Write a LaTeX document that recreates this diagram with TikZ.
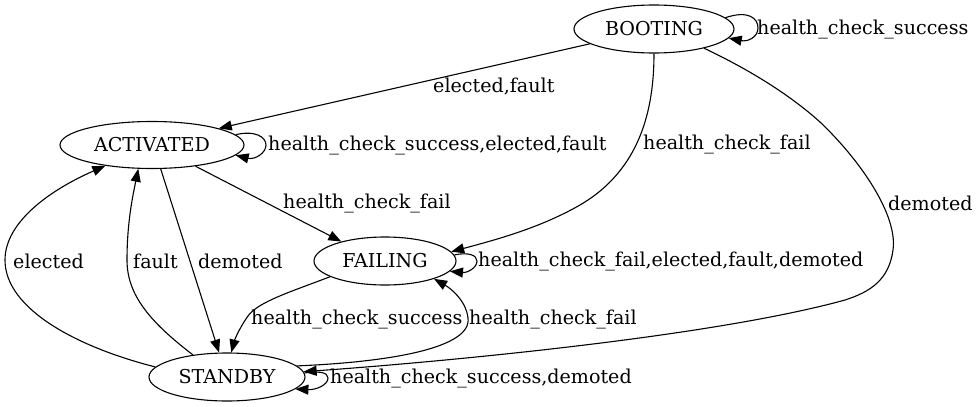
\documentclass[tikz,border=0pt]{standalone}
\usepackage{fontspec}
\setmainfont{DejaVu Serif}
\usetikzlibrary{shapes.geometric,arrows.meta}
\begin{document}
\begin{tikzpicture}[x=1pt,y=-1pt,
  st/.style={ellipse, draw, line width=1.1pt, inner sep=0pt},
  tr/.style={-{Triangle[length=13pt,width=10pt]}, line width=1.1pt},
  lbl/.style={anchor=west, inner sep=0pt},
  every node/.style={font=\fontsize{19.1}{22}\selectfont}]
\useasboundingbox (0,0) rectangle (978,407);
\node[st, minimum width=160pt, minimum height=48pt] (boot) at (654,29) {BOOTING};
\node[st, minimum width=184pt, minimum height=47pt] (act) at (152,145) {ACTIVATED};
\node[st, minimum width=142pt, minimum height=48pt] (fail) at (385,261) {FAILING};
\node[st, minimum width=156pt, minimum height=48pt] (stby) at (227,377) {STANDBY};

% BOOTING edges
\draw[tr] (boot.193) -- (act.14);
\node[lbl] (l1) at (433,87) {elected,fault};
\draw[tr] (boot.9) .. controls (748,10) and (758,18) .. (758,28) .. controls (758,37) and (748,42) .. (boot.-7);
\node[lbl] (l2) at (757,29) {health\_check\_success};
\draw[tr] (boot.270) .. controls (654,110) and (640,170) .. (580,205) .. controls (540,228) and (495,240) .. (fail.8);
\node[lbl] (l3) at (643,144) {health\_check\_fail};
\draw[tr] (boot.339) .. controls (750,70) and (790,95) .. (820,122) .. controls (860,160) and (898,215) .. (893,250) .. controls (889,280) and (870,292) .. (845,300) .. controls (700,340) and (400,365) .. (stby.4);
\node[lbl] (l4) at (888,203) {demoted};

% ACTIVATED edges
\draw[tr] (act.7) .. controls (255,130) and (266,137) .. (266,145) .. controls (266,153) and (255,160) .. (act.-7);
\node[lbl] (l5) at (268,145) {health\_check\_success,elected,fault};
\draw[tr] (act.334) -- (fail.156);
\node[lbl] (l6) at (283,203) {health\_check\_fail};
\draw[tr] (act.290) -- (stby.108);
\node[lbl] (l7) at (198,261) {demoted};

% STANDBY edges
\draw[tr] (stby.172) .. controls (80,348) and (5,310) .. (5,260) .. controls (5,222) and (50,190) .. (act.204);
\node[lbl] (l8) at (13,261) {elected};
\draw[tr] (stby.147) .. controls (150,322) and (127,295) .. (127,260) .. controls (127,222) and (133,195) .. (act.240);
\node[lbl] (l9) at (133,261) {fault};
\draw[tr] (stby.9) .. controls (390,362) and (472,348) .. (468,318) .. controls (466,300) and (450,288) .. (fail.340);
\node[lbl] (l10) at (469,319) {health\_check\_fail};
\draw[tr] (stby.3) .. controls (318,371) and (328,372) .. (328,378) .. controls (328,385) and (316,390) .. (stby.-10);
\node[lbl] (l11) at (330,378) {health\_check\_success,demoted};

% FAILING edges
\draw[tr] (fail.196) .. controls (290,292) and (258,302) .. (248,316) .. controls (238,330) and (234,342) .. (stby.80);
\node[lbl] (l12) at (251,319) {health\_check\_success};
\draw[tr] (fail.5) .. controls (468,252) and (477,255) .. (477,261) .. controls (477,268) and (467,273) .. (fail.-9);
\node[lbl] (l13) at (478,261) {health\_check\_fail,elected,fault,demoted};
\end{tikzpicture}
\end{document}
